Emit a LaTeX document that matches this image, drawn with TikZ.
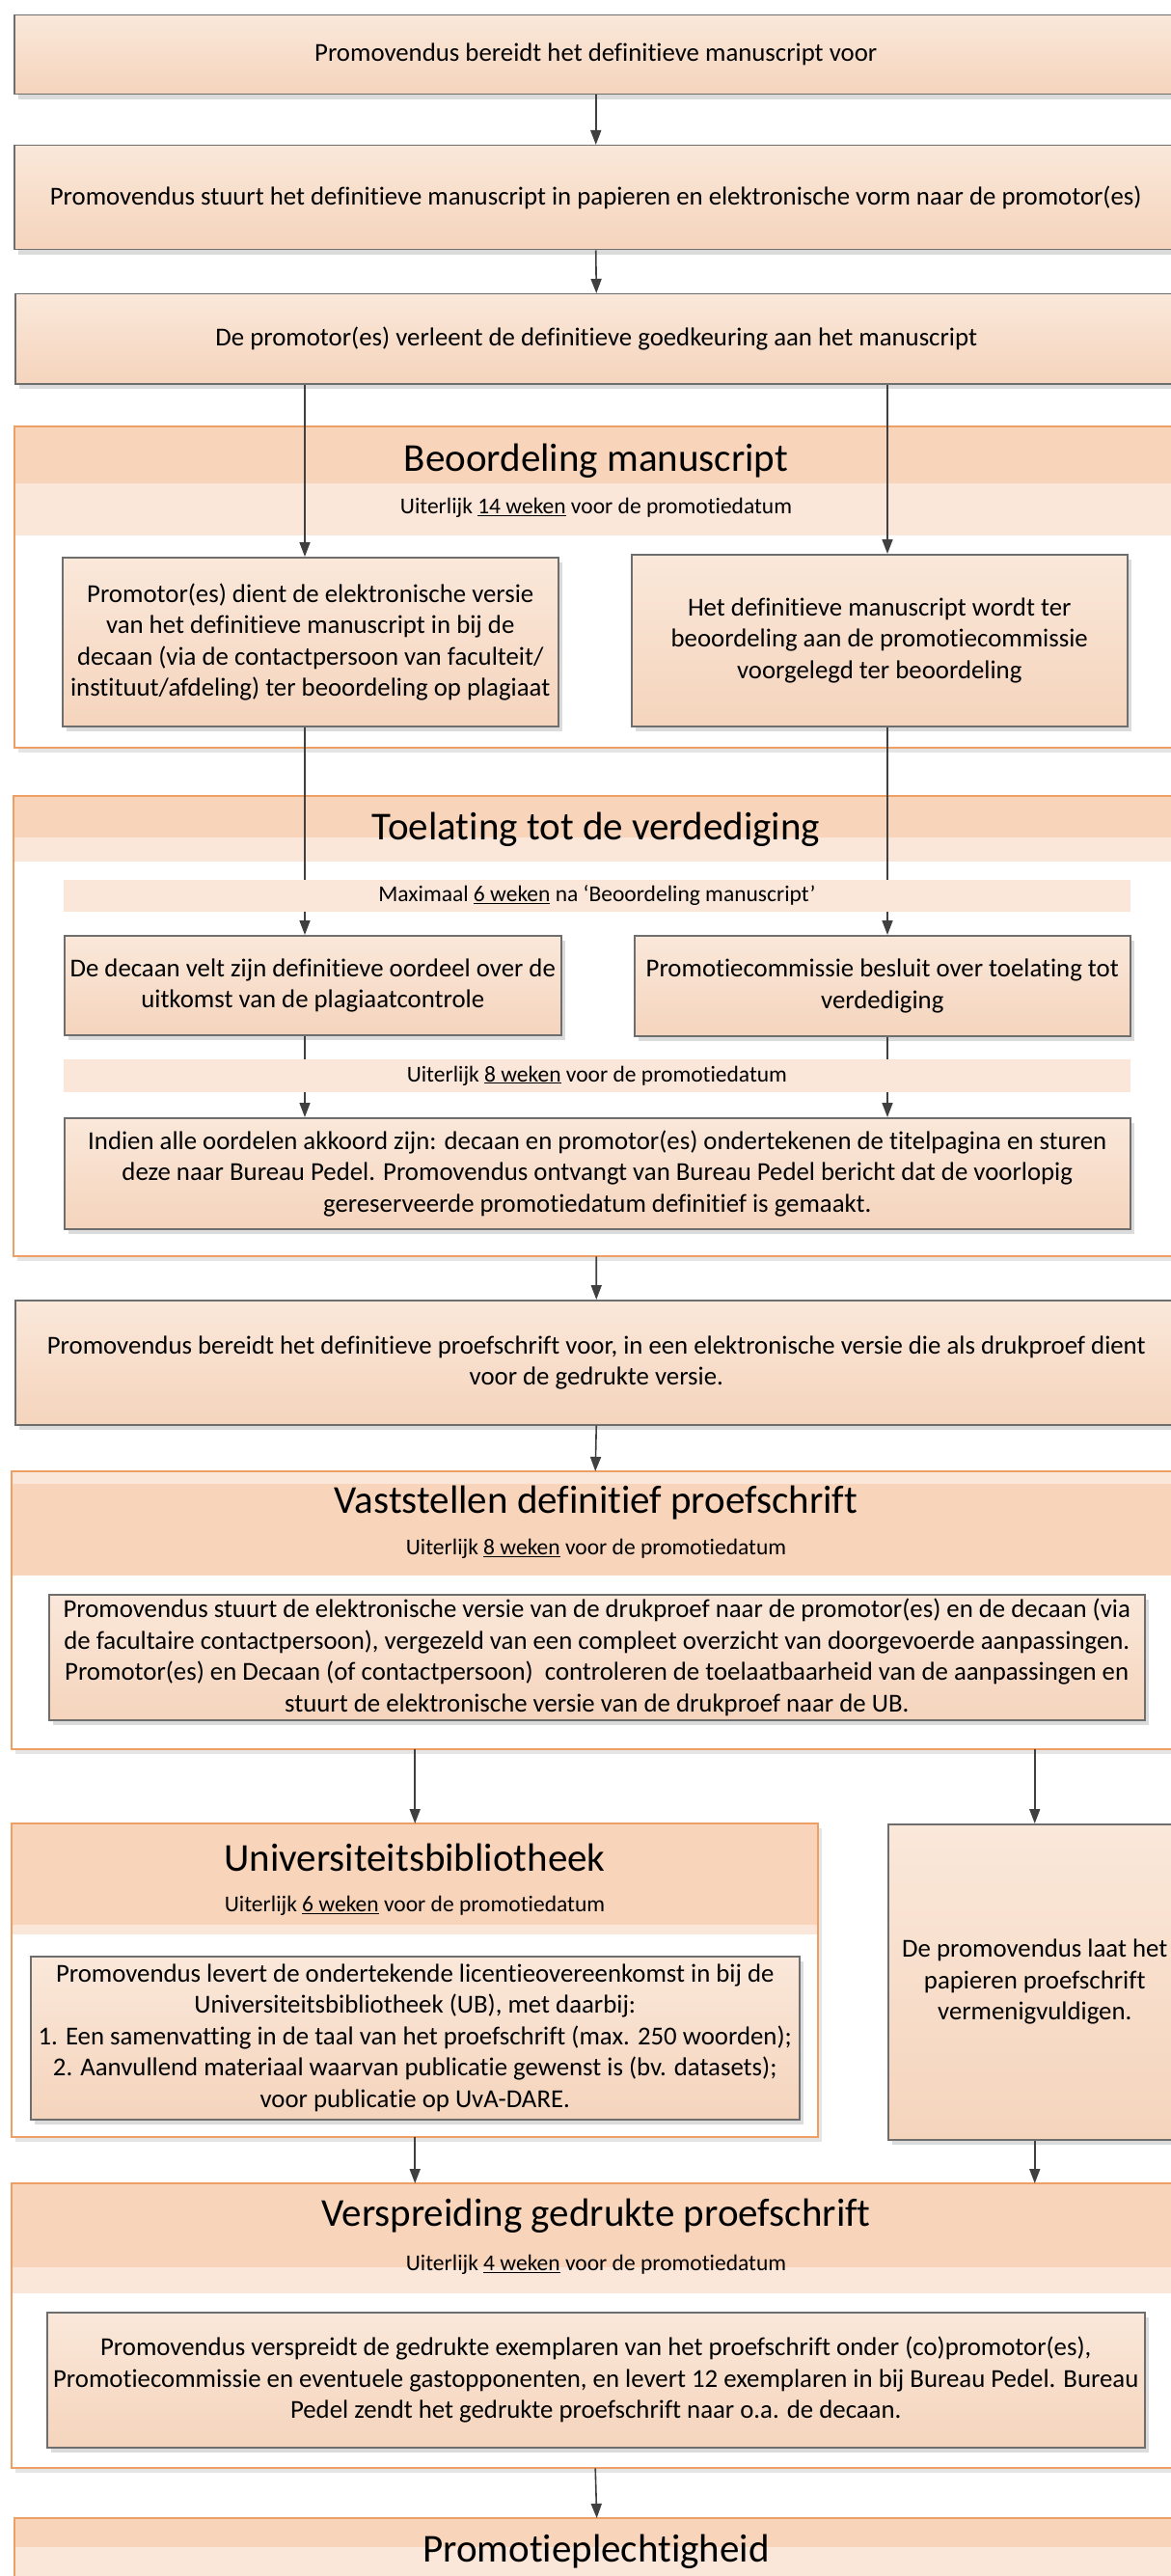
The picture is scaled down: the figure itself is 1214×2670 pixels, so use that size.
\documentclass[tikz,border=0pt]{standalone}
\usepackage{fontspec}
\setmainfont[Ligatures={NoCommon}]{Carlito}
\usetikzlibrary{arrows.meta,shadows}
\definecolor{boxtop}{RGB}{250,232,218}
\definecolor{boxbot}{RGB}{245,212,188}
\definecolor{boxline}{RGB}{110,110,110}
\definecolor{grpline}{RGB}{238,160,100}
\definecolor{hdrdark}{RGB}{248,212,186}
\definecolor{hdrlight}{RGB}{251,231,217}
\definecolor{arrowgray}{RGB}{64,64,64}
\tikzset{
  procbox/.style={draw=boxline,line width=1.5pt,top color=boxtop,bottom color=boxbot,
    anchor=north west,inner sep=0pt,align=center,font=\fontsize{26.8}{32.5}\selectfont,
    drop shadow={shadow xshift=4pt,shadow yshift=-5pt,fill=black!14,opacity=1}},
  grpframe/.style={fill=white,anchor=north west,inner sep=0pt,
    drop shadow={shadow xshift=4pt,shadow yshift=-5pt,fill=black!10,opacity=1}},
  grpborder/.style={draw=grpline,line width=2pt},
  grptitle/.style={font=\fontsize{41}{48}\selectfont,inner sep=0pt},
  grpsub/.style={font=\fontsize{23.5}{28}\selectfont,inner sep=0pt},
  timeband/.style={fill=hdrlight,draw=hdrdark!60,line width=0.8pt,anchor=north west,
    inner sep=0pt,font=\fontsize{23.5}{28}\selectfont},
  flow/.style={draw=arrowgray,line width=1.6pt,-{Triangle[length=15pt,width=11pt]}},
  flowline/.style={draw=arrowgray,line width=1.6pt},
}
\begin{document}
\begin{tikzpicture}[x=1pt,y=-1pt]
\useasboundingbox (0,0) rectangle (1214,2670);
\coordinate (cl) at (316,0);
\coordinate (cr) at (920,0);
%
\node[procbox,minimum width=1206,minimum height=82] (b1) at (14,15)
  {Promovendus bereidt het definitieve manuscript voor};
\node[procbox,minimum width=1206,minimum height=108] (b2) at (14,150)
  {Promovendus stuurt het definitieve manuscript in papieren en elektronische vorm naar de promotor(es)};
\node[procbox,minimum width=1205,minimum height=93] (b3) at (15,304)
  {De promotor(es) verleent de definitieve goedkeuring aan het manuscript};
%
\node[grpframe,minimum width=1207,minimum height=333] (g1) at (15,442) {};
\fill[hdrdark] (15,442) rectangle (1222,501);
\fill[hdrlight] (15,501) rectangle (1222,555);
\draw[grpborder] (g1.north west) rectangle (g1.south east);
\node[grptitle] (t1) at (618,478) {Beoordeling manuscript};
\node[grpsub] (s1) at (618,526) {Uiterlijk \underline{14 weken} voor de promotiedatum};
\node[procbox,minimum width=514,minimum height=175] (m1l) at (64,577)
  {Promotor(es) dient de elektronische versie\\van het definitieve manuscript in bij de\\decaan (via de contactpersoon van faculteit/\\instituut/afdeling) ter beoordeling op plagiaat};
\node[procbox,minimum width=514,minimum height=178] (m1r) at (654,574)
  {Het definitieve manuscript wordt ter\\beoordeling aan de promotiecommissie\\voorgelegd ter beoordeling};
%
\node[grpframe,minimum width=1208,minimum height=477] (g2) at (14,825) {};
\fill[hdrdark] (14,825) rectangle (1222,868);
\fill[hdrlight] (14,868) rectangle (1222,893);
\draw[grpborder] (g2.north west) rectangle (g2.south east);
\node[grptitle] (t2) at (618,860) {Toelating tot de verdediging};
\node[timeband,minimum width=1105,minimum height=32] (x1) at (66,912)
  {Maximaal \underline{6 weken} na ‘Beoordeling manuscript’};
\node[procbox,minimum width=515,minimum height=103] (m2l) at (66,969)
  {De decaan velt zijn definitieve oordeel over de\\uitkomst van de plagiaatcontrole};
\node[procbox,minimum width=514,minimum height=104] (m2r) at (657,969)
  {Promotiecommissie besluit over toelating tot\\verdediging};
\node[timeband,minimum width=1105,minimum height=33] (x2) at (66,1098)
  {Uiterlijk \underline{8 weken} voor de promotiedatum};
\node[procbox,minimum width=1105,minimum height=115] (m2b) at (66,1158)
  {Indien alle oordelen akkoord zijn: decaan en promotor(es) ondertekenen de titelpagina en sturen\\deze naar Bureau Pedel. Promovendus ontvangt van Bureau Pedel bericht dat de voorlopig\\gereserveerde promotiedatum definitief is gemaakt.};
%
\node[procbox,minimum width=1205,minimum height=129] (b4) at (15,1347)
  {Promovendus bereidt het definitieve proefschrift voor, in een elektronische versie die als drukproef dient\\voor de gedrukte versie.};
%
\node[grpframe,minimum width=1210,minimum height=288] (g3) at (12,1525) {};
\fill[hdrlight] (12,1525) rectangle (1222,1538);
\fill[hdrdark] (12,1538) rectangle (1222,1633);
\draw[grpborder] (g3.north west) rectangle (g3.south east);
\node[grptitle] (t3) at (618,1558) {Vaststellen definitief proefschrift};
\node[grpsub] (s3) at (618,1605) {Uiterlijk \underline{8 weken} voor de promotiedatum};
\node[procbox,minimum width=1136,minimum height=130] (m3) at (50,1652)
  {Promovendus stuurt de elektronische versie van de drukproef naar de promotor(es) en de decaan (via\\de facultaire contactpersoon), vergezeld van een compleet overzicht van doorgevoerde aanpassingen.\\Promotor(es) en Decaan (of contactpersoon)\ \ controleren de toelaatbaarheid van de aanpassingen en\\stuurt de elektronische versie van de drukproef naar de UB.};
%
\node[grpframe,minimum width=836,minimum height=325] (g4) at (12,1890) {};
\fill[hdrdark] (12,1890) rectangle (848,1995);
\fill[hdrlight] (12,1995) rectangle (848,2005);
\draw[grpborder] (g4.north west) rectangle (g4.south east);
\node[grptitle] (t4) at (430,1925) {Universiteitsbibliotheek};
\node[grpsub] (s4) at (430,1975) {Uiterlijk \underline{6 weken} voor de promotiedatum};
\node[procbox,minimum width=797,minimum height=169] (m4) at (31,2027)
  {Promovendus levert de ondertekende licentieovereenkomst in bij de\\Universiteitsbibliotheek (UB), met daarbij:\\1. Een samenvatting in de taal van het proefschrift (max. 250 woorden);\\2. Aanvullend materiaal waarvan publicatie gewenst is (bv. datasets);\\voor publicatie op UvA-DARE.};
\node[procbox,minimum width=304,minimum height=327] (b5) at (920,1890)
  {De promovendus laat het\\papieren proefschrift\\vermenigvuldigen.};
%
\node[grpframe,minimum width=1210,minimum height=295] (g5) at (12,2263) {};
\fill[hdrdark] (12,2263) rectangle (1222,2350);
\fill[hdrlight] (12,2350) rectangle (1222,2377);
\draw[grpborder] (g5.north west) rectangle (g5.south east);
\node[grptitle] (t5) at (618,2297) {Verspreiding gedrukte proefschrift};
\node[grpsub] (s5) at (618,2347) {Uiterlijk \underline{4 weken} voor de promotiedatum};
\node[procbox,minimum width=1138,minimum height=140] (m5) at (48,2396)
  {Promovendus verspreidt de gedrukte exemplaren van het proefschrift onder (co)promotor(es),\\Promotiecommissie en eventuele gastopponenten, en levert 12 exemplaren in bij Bureau Pedel. Bureau\\Pedel zendt het gedrukte proefschrift naar o.a. de decaan.};
%
\node[grpframe,minimum width=1207,minimum height=100] (g6) at (15,2610) {};
\fill[hdrdark] (15,2610) rectangle (1222,2640);
\fill[hdrlight] (15,2640) rectangle (1222,2710);
\draw[grpborder] (g6.north west) rectangle (g6.south east);
\node[grptitle] (t6) at (618,2645) {Promotieplechtigheid};
%
\draw[flow] (b1.south) -- (b2.north);
\draw[flow] (b2.south) -- (b3.north);
\draw[flow] (b3.south -| cl) -- (m1l.north -| cl);
\draw[flow] (b3.south -| cr) -- (m1r.north -| cr);
\draw[flowline] (m1l.south -| cl) -- (x1.north -| cl);
\draw[flowline] (m1r.south -| cr) -- (x1.north -| cr);
\draw[flow] (x1.south -| cl) -- (m2l.north -| cl);
\draw[flow] (x1.south -| cr) -- (m2r.north -| cr);
\draw[flowline] (m2l.south -| cl) -- (x2.north -| cl);
\draw[flowline] (m2r.south -| cr) -- (x2.north -| cr);
\draw[flow] (x2.south -| cl) -- (m2b.north -| cl);
\draw[flow] (x2.south -| cr) -- (m2b.north -| cr);
\draw[flow] (g2.south) -- (b4.north);
\draw[flow] (b4.south) -- (g3.north);
\draw[flow] (g3.south -| g4.south) -- (g4.north);
\draw[flow] (g3.south -| b5.south) -- (b5.north);
\draw[flow] (g4.south) -- (g4.south |- g5.north);
\draw[flow] (b5.south) -- (b5.south |- g5.north);
\draw[flow] (g5.south) -- (g6.north);
\end{tikzpicture}
\end{document}
